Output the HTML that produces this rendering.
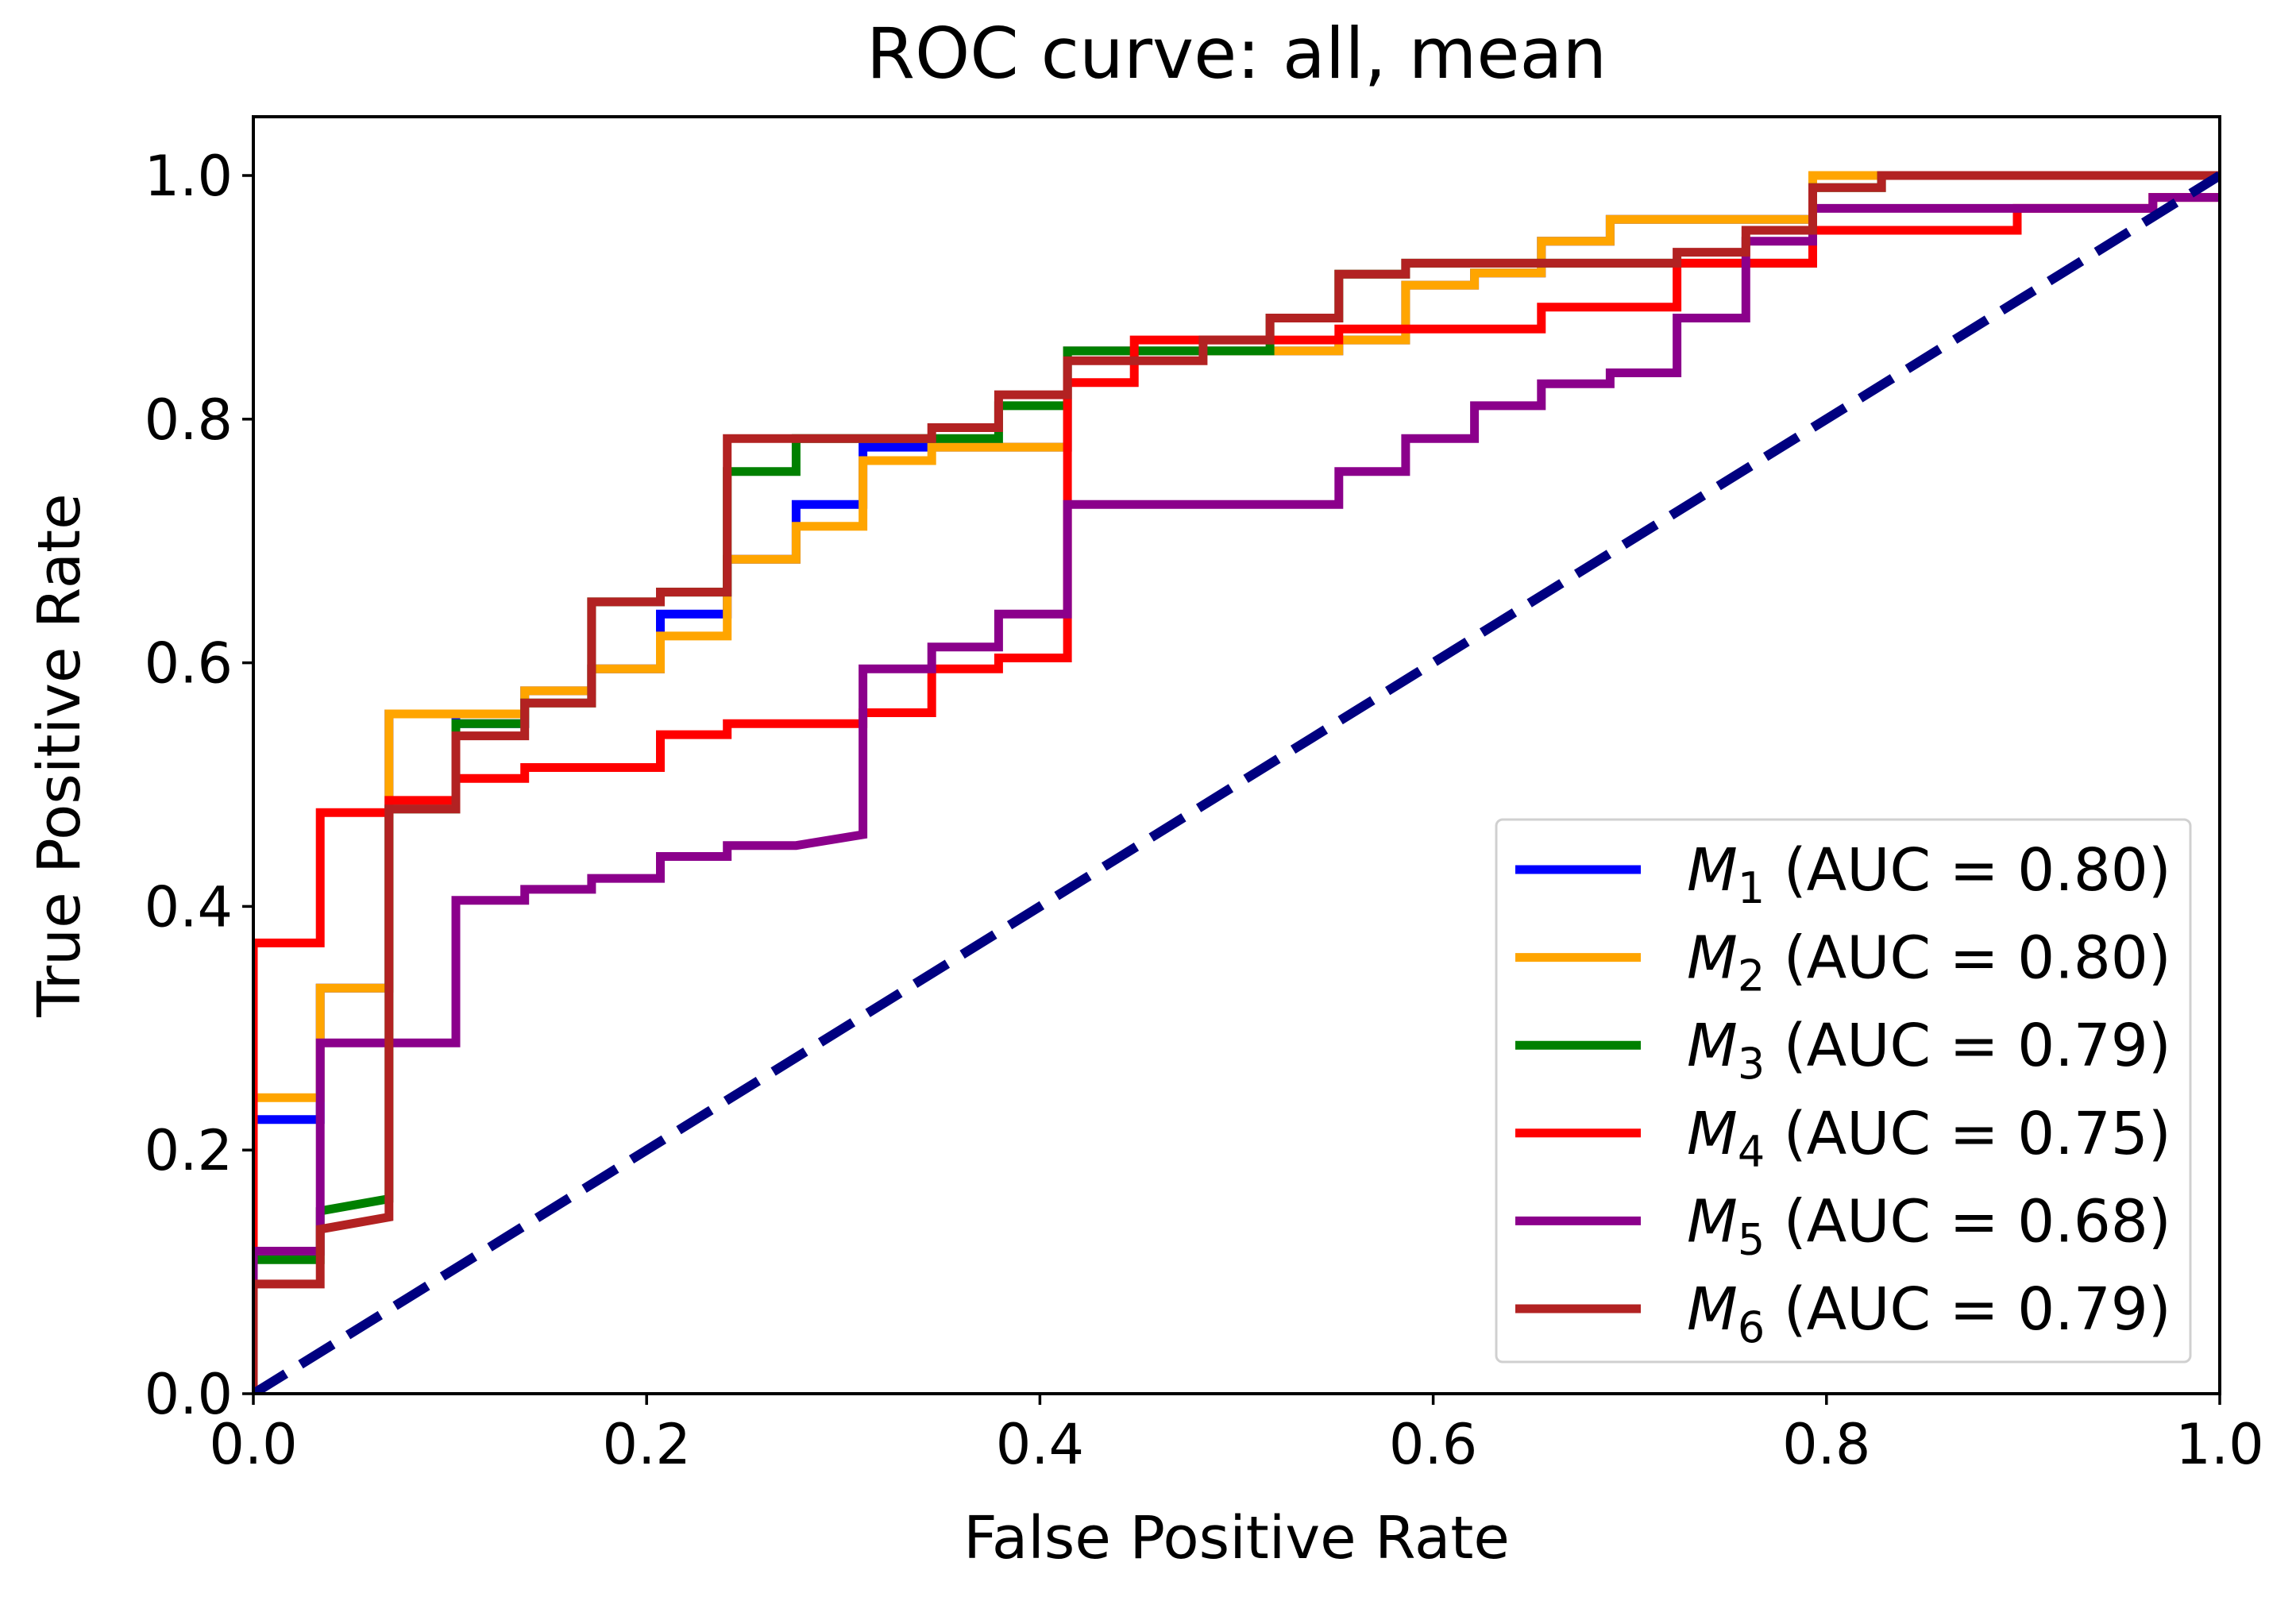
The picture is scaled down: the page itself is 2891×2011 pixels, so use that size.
<!DOCTYPE html>
<html><head><meta charset="utf-8"><style>
html,body{margin:0;padding:0;background:#fff;}
svg{display:block;font-family:"DejaVu Sans","Liberation Sans",sans-serif;}
</style></head><body>
<svg id="chart" width="2891" height="2011" viewBox="0 0 2891 2011" xmlns="http://www.w3.org/2000/svg">
<rect width="2891" height="2011" fill="#fff"/>
<text x="1557" y="98" font-size="88" text-anchor="middle" fill="#000">ROC curve: all, mean</text>
<g id="plot"></g>
<g id="axes"></g>
<text x="1557" y="1962" font-size="74" text-anchor="middle">False Positive Rate</text>
<text transform="translate(100,951) rotate(-90)" font-size="74" text-anchor="middle">True Positive Rate</text>
<g id="legend"></g>
</svg>
<script>
const xTicks = [0, 0.2, 0.4, 0.6, 0.8, 1.0];
const yTicks = [0, 0.2, 0.4, 0.6, 0.8, 1.0];
const tickLabels = ["0.0", "0.2", "0.4", "0.6", "0.8", "1.0"];
const seriesNames = ["M1", "M2", "M3", "M4", "M5", "M6"];
const seriesSubs = ["1", "2", "3", "4", "5", "6"];
const aucValues = ["0.80", "0.80", "0.79", "0.75", "0.68", "0.79"];
const seriesColors = ["#0000ff", "#ffa500", "#008000", "#ff0000", "#8b008b", "#b22222"];
const m1Fpr = [0,0,0.034,0.034,0.069,0.069,0.103,0.103,0.138,0.138,0.172,0.172,0.207,0.207,0.241,0.241,0.276,0.276,0.310,0.310,0.345,0.345,0.414,0.414,0.448,0.448,0.517,0.517,0.552,0.552,0.586,0.586,0.621,0.621,0.655,0.655,0.690,0.690,0.793,0.793,1];
const m1Tpr = [0,0.225,0.225,0.333,0.333,0.558,0.558,0.55,0.55,0.577,0.577,0.595,0.595,0.640,0.640,0.685,0.685,0.730,0.730,0.777,0.777,0.777,0.777,0.856,0.856,0.856,0.856,0.856,0.856,0.865,0.865,0.910,0.910,0.920,0.920,0.946,0.946,0.964,0.964,1,1];
const m2Fpr = [0,0,0.034,0.034,0.069,0.069,0.138,0.138,0.172,0.172,0.207,0.207,0.241,0.241,0.276,0.276,0.310,0.310,0.345,0.345,0.414,0.414,0.552,0.552,0.586,0.586,0.621,0.621,0.655,0.655,0.690,0.690,0.793,0.793,1];
const m2Tpr = [0,0.243,0.243,0.333,0.333,0.558,0.558,0.577,0.577,0.595,0.595,0.622,0.622,0.685,0.685,0.712,0.712,0.766,0.766,0.777,0.777,0.856,0.856,0.865,0.865,0.910,0.910,0.920,0.920,0.946,0.946,0.964,0.964,1,1];
const m3Fpr = [0,0,0.034,0.034,0.069,0.069,0.103,0.103,0.138,0.138,0.172,0.172,0.207,0.207,0.241,0.241,0.276,0.276,0.379,0.379,0.414,0.414,0.517,0.517,0.552,0.552,0.586,0.586,0.793,0.793,0.828,0.828,1];
const m3Tpr = [0,0.110,0.110,0.150,0.160,0.480,0.480,0.550,0.550,0.567,0.567,0.650,0.650,0.658,0.658,0.757,0.757,0.784,0.784,0.811,0.811,0.856,0.856,0.883,0.883,0.919,0.919,0.928,0.928,0.990,0.990,1,1];
const m4Fpr = [0,0,0.034,0.034,0.069,0.069,0.103,0.103,0.138,0.138,0.207,0.207,0.241,0.241,0.310,0.310,0.345,0.345,0.379,0.379,0.414,0.414,0.448,0.448,0.552,0.552,0.655,0.655,0.724,0.724,0.793,0.793,0.897,0.897,0.966,0.966,1];
const m4Tpr = [0,0.370,0.370,0.477,0.477,0.487,0.487,0.505,0.505,0.514,0.514,0.541,0.541,0.550,0.550,0.559,0.559,0.595,0.595,0.604,0.604,0.830,0.830,0.865,0.865,0.874,0.874,0.892,0.892,0.928,0.928,0.955,0.955,0.973,0.973,0.982,0.982];
const m5Fpr = [0,0,0.034,0.034,0.103,0.103,0.138,0.138,0.172,0.172,0.207,0.207,0.241,0.241,0.276,0.310,0.310,0.345,0.345,0.379,0.379,0.414,0.414,0.552,0.552,0.586,0.586,0.621,0.621,0.655,0.655,0.690,0.690,0.724,0.724,0.759,0.759,0.793,0.793,0.966,0.966,1];
const m5Tpr = [0,0.117,0.117,0.288,0.288,0.405,0.405,0.414,0.414,0.423,0.423,0.441,0.441,0.450,0.450,0.459,0.595,0.595,0.613,0.613,0.640,0.640,0.730,0.730,0.757,0.757,0.784,0.784,0.811,0.811,0.829,0.829,0.838,0.838,0.883,0.883,0.946,0.946,0.973,0.973,0.982,0.982];
const m6Fpr = [0,0,0.034,0.034,0.069,0.069,0.103,0.103,0.138,0.138,0.172,0.172,0.207,0.207,0.241,0.241,0.345,0.345,0.379,0.379,0.414,0.414,0.448,0.448,0.483,0.483,0.517,0.517,0.552,0.552,0.586,0.586,0.724,0.724,0.759,0.759,0.793,0.793,0.828,0.828,1];
const m6Tpr = [0,0.090,0.090,0.135,0.145,0.480,0.480,0.540,0.540,0.567,0.567,0.650,0.650,0.658,0.658,0.784,0.784,0.793,0.793,0.820,0.820,0.848,0.848,0.848,0.848,0.865,0.865,0.883,0.883,0.919,0.919,0.928,0.928,0.937,0.937,0.955,0.955,0.990,0.990,1,1];
const allFpr = [m1Fpr, m2Fpr, m3Fpr, m4Fpr, m5Fpr, m6Fpr];
const allTpr = [m1Tpr, m2Tpr, m3Tpr, m4Tpr, m5Tpr, m6Tpr];

const NS = "http://www.w3.org/2000/svg";
const L = 319, R = 2795, T = 147, B = 1755, YTOP = 221;
function sx(v){ return L + v * (R - L); }
function sy(v){ return B - v * (B - YTOP); }
function mk(tag, attrs, parent){ const e = document.createElementNS(NS, tag); for (const k in attrs) e.setAttribute(k, attrs[k]); parent.appendChild(e); return e; }

const plot = document.getElementById('plot');
const defs = mk('defs', {}, plot);
const cp = mk('clipPath', {id: 'clip'}, defs);
mk('rect', {x: L, y: T, width: R - L, height: B - T}, cp);
const g = mk('g', {'clip-path': 'url(#clip)'}, plot);
for (let s = 0; s < allFpr.length; s++) {
  const pts = allFpr[s].map((f, i) => sx(f).toFixed(1) + ',' + sy(allTpr[s][i]).toFixed(1)).join(' ');
  const pl = mk('polyline', {points: pts, fill: 'none', stroke: seriesColors[s], 'stroke-width': 11, 'stroke-linejoin': 'miter'}, g);
  
  
}
const diag = mk('line', {x1: sx(0), y1: sy(0), x2: sx(1), y2: sy(1), stroke: '#000080', 'stroke-width': 12, 'stroke-dasharray': '48,22'}, g);



const axes = document.getElementById('axes');
const frame = mk('rect', {x: L, y: T, width: R - L, height: B - T, fill: 'none', stroke: '#000', 'stroke-width': 4}, axes);


xTicks.forEach((v, i) => {
  const t = mk('line', {x1: sx(v), y1: B, x2: sx(v), y2: B + 14, stroke: '#000', 'stroke-width': 3.5}, axes);
  
  
  const tx = mk('text', {x: sx(v), y: B + 88, 'font-size': 70, 'text-anchor': 'middle'}, axes);
  tx.textContent = tickLabels[i];
  
  
});
yTicks.forEach((v, i) => {
  const t = mk('line', {x1: L - 14, y1: sy(v), x2: L, y2: sy(v), stroke: '#000', 'stroke-width': 3.5}, axes);
  
  
  const tx = mk('text', {x: L - 26, y: sy(v) + 25, 'font-size': 70, 'text-anchor': 'end'}, axes);
  tx.textContent = tickLabels[i];
  
  
});

const leg = document.getElementById('legend');
const box = mk('rect', {x: 1884, y: 1032, width: 874, height: 683, rx: 8, fill: '#fff', 'fill-opacity': 0.9, stroke: '#d0d0d0', 'stroke-width': 3}, leg);


seriesNames.forEach((n, i) => {
  const y = 1095 + i * 110.6;
  const ln = mk('line', {x1: 1908, y1: y, x2: 2066, y2: y, stroke: seriesColors[i], 'stroke-width': 11}, leg);
  
  
  const tx = mk('text', {x: 2124, y: y + 26, 'font-size': 74}, leg);
  
  
  const m = mk('tspan', {'font-style': 'italic'}, tx); m.textContent = 'M';
  const sub = mk('tspan', {'font-size': 54, dy: 16}, tx); sub.textContent = seriesSubs[i];
  const rest = mk('tspan', {dy: -16}, tx); rest.textContent = ' (AUC = ' + aucValues[i] + ')';
});
</script>
</body></html>
